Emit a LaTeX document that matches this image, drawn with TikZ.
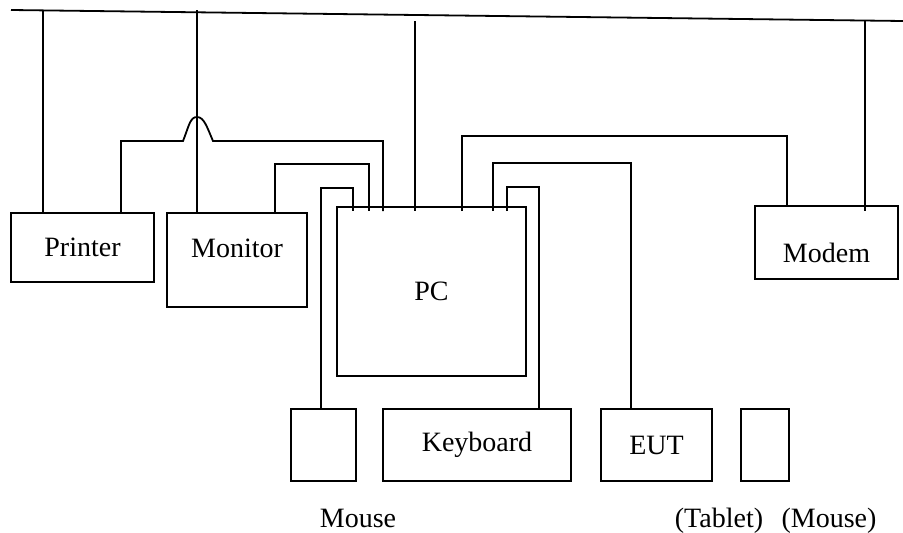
\documentclass[tikz,border=0pt]{standalone}
\usepackage{fontspec}
\setmainfont{Liberation Serif}
\usetikzlibrary{positioning}

\begin{document}
\begin{tikzpicture}[
    x=1pt, y=-1pt,
    box/.style={draw, line width=1.8pt, inner sep=0pt, outer sep=0pt,
      anchor=north west, minimum height=72pt,
      font=\fontsize{28pt}{34pt}\selectfont},
    cable/.style={line width=1.8pt},
    caption/.style={anchor=base, inner sep=0pt,
      font=\fontsize{28pt}{34pt}\selectfont},
  ]
    \useasboundingbox (0,0) rectangle (903,533);

    % devices
    \node[box, minimum width=143pt, minimum height=69pt] (printer) at (11,213) {Printer};
    \node[box, minimum width=140pt, minimum height=94pt,
      text height=19pt, text depth=24pt] (monitor) at (167,213) {Monitor};
    \node[box, minimum width=189pt, minimum height=169pt] (pc) at (337,207) {PC};
    \node[box, minimum width=143pt, minimum height=73pt,
      text height=39pt, text depth=0pt] (modem) at (755,206) {Modem};
    \node[box, minimum width=65pt] (mouse) at (291,409) {};
    \node[box, minimum width=188pt, right=27pt of mouse] (keyboard) {Keyboard};
    \node[box, minimum width=111pt, right=30pt of keyboard] (eut) {EUT};
    \node[box, minimum width=48pt, right=29pt of eut] (tablet) {};

    \node[caption] (mouselbl) at (358,527) {Mouse};
    \node[caption] (tabletlbl) at (719,527) {(Tablet)};
    \node[caption] (mouse2lbl) at (829,527) {(Mouse)};

    % bus and taps
    \coordinate (busL) at (11,10);
    \coordinate (busR) at (903,21);
    \draw[cable] (busL) -- (busR);
    \coordinate (tap1) at (43,11);
    \coordinate (tap2) at (197,10);
    \coordinate (tap3) at (415,21);
    \coordinate (tap4) at (865,21);

    % ports on top of the PC
    \foreach \px [count=\i] in {353,369,383,415,462,493,507}
      \coordinate (port\i) at (\px,211);

    \draw[cable] (tap1) -- ([xshift=32pt]printer.north west);
    \draw[cable] (tap2) -- ([xshift=30pt]monitor.north west);
    \draw[cable] (tap3) -- (port4);
    \draw[cable] (tap4) -- ([xshift=110pt,yshift=-5pt]modem.north west);

    % cables to the PC
    \draw[cable] ([xshift=110pt]printer.north west) |- (183,141)
      .. controls (189,126) and (190,117) .. (197,117)
      .. controls (204,117) and (207,127) .. (213,141) -| (port3);
    \draw[cable] ([xshift=108pt]monitor.north west) -- ++(0,-49) -| (port2);
    \draw[cable] ([xshift=30pt]mouse.north west) -- ++(0,-221) -| (port1);
    \draw[cable] (port5) -- ++(0,-75) -| ([xshift=32pt]modem.north west);
    \draw[cable] (port6) -- ++(0,-48) -| ([xshift=30pt]eut.north west);
    \draw[cable] (port7) -- ++(0,-24) -| ([xshift=156pt]keyboard.north west);
\end{tikzpicture}
\end{document}
